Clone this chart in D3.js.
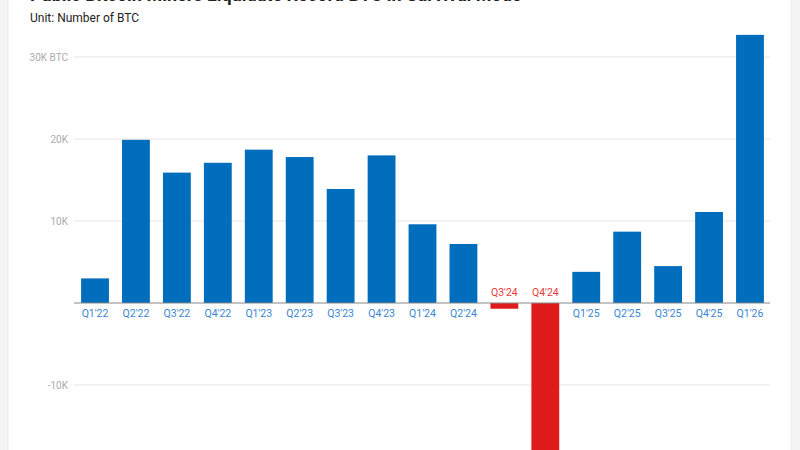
<!DOCTYPE html>
<html><head><meta charset="utf-8">
<script src="https://cdn.jsdelivr.net/npm/d3@7"></script>
<style>body{margin:0;background:#f4f4f4;font-family:Roboto,sans-serif}</style>
</head><body><svg width="800" height="450"></svg>
<script>
const categories=["Q1'22","Q2'22","Q3'22","Q4'22","Q1'23","Q2'23","Q3'23","Q4'23","Q1'24","Q2'24","Q3'24","Q4'24","Q1'25","Q2'25","Q3'25","Q4'25","Q1'26"];
const values=[3000,19900,15900,17100,18700,17800,13900,18000,9600,7200,-700,-20000,3800,8700,4500,11100,32700];
const tickValues=[-10000,10000,20000,30000];
const tickLabels=["-10K","10K","20K","30K BTC"];
const title="Public Bitcoin Miners Liquidate Record BTC in Survival Mode";
const subtitle="Unit: Number of BTC";

const svg=d3.select("svg");
svg.append("rect").attr("x",8).attr("y",-10).attr("width",783).attr("height",470).attr("fill","#fff").attr("stroke","#ececec");
svg.append("text").attr("x",30).attr("y",1).attr("font-size",18).attr("font-weight","bold").attr("fill","#222").text(title);
svg.append("text").attr("x",30).attr("y",22).attr("font-size",12).attr("fill","#222").text(subtitle);

const x=d3.scaleBand().domain(categories).range([68,777]).padding(0.32);
const y=d3.scaleLinear().domain([-10000,30000]).range([385,57]);

const g=svg.append("g");
tickValues.forEach((t,i)=>{
  g.append("line").attr("x1",74).attr("x2",770).attr("y1",y(t)).attr("y2",y(t)).attr("stroke","#e6e6e6");
  g.append("text").attr("x",68).attr("y",y(t)).attr("dy","0.35em").attr("text-anchor","end").attr("font-size",10).attr("fill","#aaa").text(tickLabels[i]);
});
g.selectAll(".bar").data(values).join("rect")
  .attr("x",(d,i)=>x(categories[i])).attr("width",x.bandwidth())
  .attr("y",d=>y(Math.max(0,d))).attr("height",d=>Math.abs(y(d)-y(0)))
  .attr("fill",d=>d<0?"#e01b1b":"#006dbd");
g.append("line").attr("x1",74).attr("x2",770).attr("y1",y(0)).attr("y2",y(0)).attr("stroke","#888").attr("stroke-width",1.2);
g.selectAll(".lab").data(values).join("text")
  .attr("x",(d,i)=>x(categories[i])+x.bandwidth()/2)
  .attr("y",d=>d<0?y(0)-7:y(0)+14)
  .attr("text-anchor","middle").attr("font-size",10.5)
  .attr("fill",d=>d<0?"#e83a3a":"#3a86cf")
  .text((d,i)=>categories[i]);
</script></body></html>
